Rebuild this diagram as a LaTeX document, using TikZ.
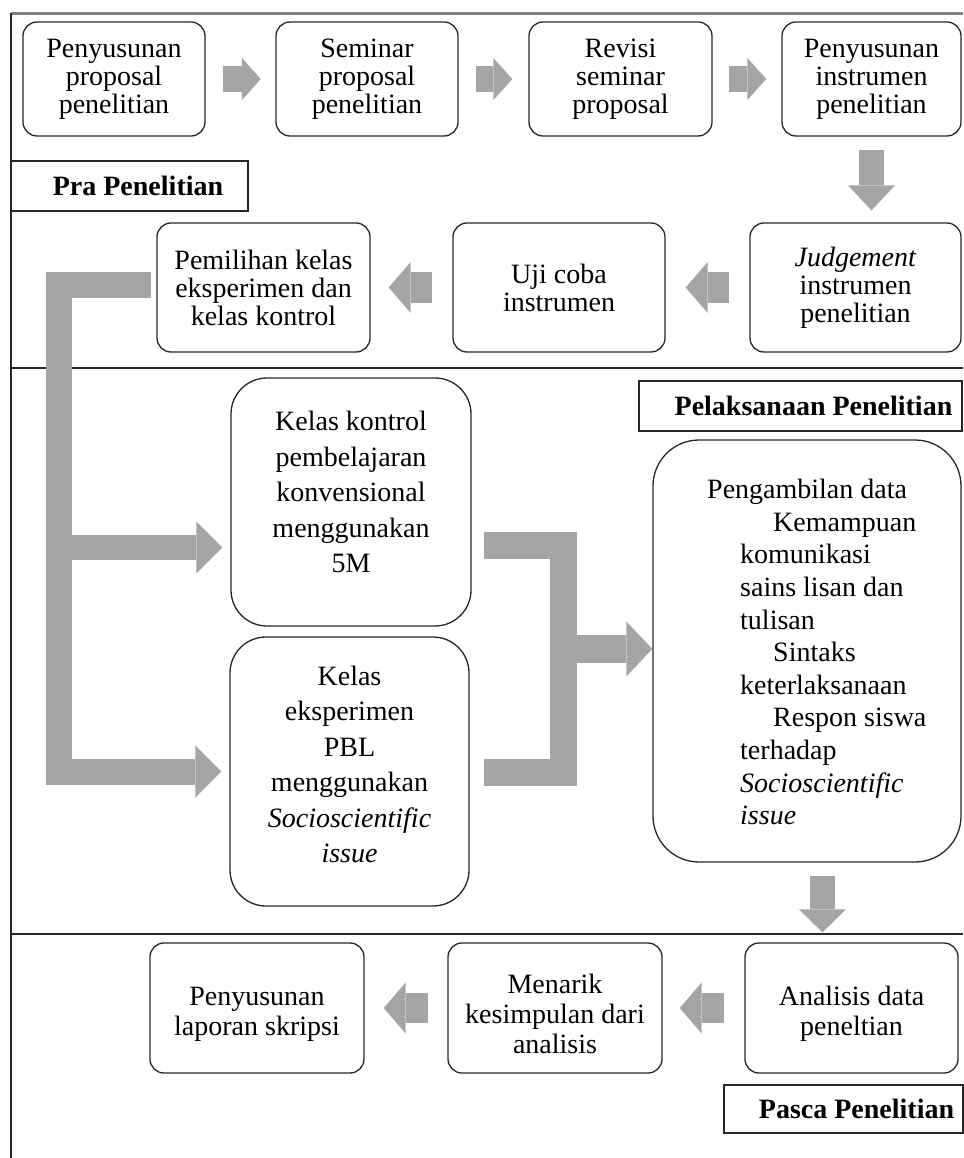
\documentclass[tikz,border=0pt]{standalone}
\usepackage{fontspec}
\setmainfont{Liberation Serif}
\usetikzlibrary{arrows.meta}
\definecolor{ag}{RGB}{166,165,165}
\definecolor{frametop}{RGB}{128,128,128}
\begin{document}
\begin{tikzpicture}[x=1pt,y=-1pt,
  box/.style={draw=black!85, line width=1.3pt, rounded corners=14pt, align=center,
    inner sep=0pt, font=\fontsize{28}{28}\selectfont},
  bigbox/.style={box, rounded corners=36pt, font=\fontsize{28}{35.5}\selectfont},
  pascabox/.style={box, font=\fontsize{28}{30}\selectfont},
  databox/.style={box, rounded corners=46pt},
  stagelabel/.style={draw=black!85, line width=1.3pt, inner sep=0pt, minimum height=50pt,
    font=\fontsize{28}{28}\selectfont\bfseries},
  rarrow/.style={ag, line width=26pt, -{Triangle[width=42pt,length=19pt,line width=0pt]}},
  darrow/.style={ag, line width=25pt, -{Triangle[width=47pt,length=25pt,line width=0pt]}},
  larrow/.style={ag, line width=31pt, -{Triangle[width=51pt,length=22pt,line width=0pt]}},
  bracket/.style={ag, line join=miter, line cap=butt},
  rule/.style={black!85, line width=2pt}
]
\useasboundingbox (0,0) rectangle (963,1158);

% frame and section dividers
\draw[frametop, line width=3pt] (11,14) -- (963,14);
\draw[rule] (11,13) -- (11,1158);
\draw[rule] (11,368) -- (963,368);
\draw[rule] (11,934) -- (963,934);

% row 1
\node[box, minimum width=182pt, minimum height=114pt] (b1) at (114,79) {Penyusunan\\proposal\\penelitian};
\node[box, minimum width=182pt, minimum height=114pt] (b2) at (367,79) {Seminar\\proposal\\penelitian};
\node[box, minimum width=183pt, minimum height=114pt] (b3) at (620.5,79) {Revisi\\seminar\\proposal};
\node[box, minimum width=179pt, minimum height=114pt] (b4) at (871.5,79) {Penyusunan\\instrumen\\penelitian};

\node[stagelabel, minimum width=237pt] (pra) at (129.5,186) {\hspace*{17pt}Pra Penelitian};

% row 2
\node[box, minimum width=211pt, minimum height=129pt] (jud) at (855.5,287.5) {\textit{Judgement}\\instrumen\\penelitian};
\node[box, minimum width=212pt, minimum height=129pt] (uji) at (559,287.5) {Uji coba\\instrumen};
\node[box, minimum width=213pt, minimum height=129pt] (pem) at (263.5,287.5) {Pemilihan kelas\\eksperimen dan\\kelas kontrol};

% pelaksanaan
\node[stagelabel, minimum width=323pt] (pel) at (800.5,406) {\hspace*{26pt}Pelaksanaan Penelitian};
\node[bigbox, minimum width=240pt, minimum height=248pt] (kon) at (351,502) {Kelas kontrol\\pembelajaran\\konvensional\\menggunakan\\5M\\[-15.5pt]\mbox{}};
\node[bigbox, minimum width=239pt, minimum height=269pt] (eks) at (349.5,771.5) {Kelas\\eksperimen\\PBL\\menggunakan\\\textit{Socioscientific}\\\textit{issue}\\[-21.5pt]\mbox{}};
\node[databox, minimum width=308pt, minimum height=422pt] (pg) at (807,651) {};
\node[anchor=north west, inner sep=0pt, align=left, font=\fontsize{28}{32.6}\selectfont] (pgtext) at (707,479)
  {Pengambilan data\\
   \hspace*{66pt}Kemampuan\\
   \hspace*{33pt}komunikasi\\
   \hspace*{33pt}sains lisan dan\\
   \hspace*{33pt}tulisan\\
   \hspace*{66pt}Sintaks\\
   \hspace*{33pt}keterlaksanaan\\
   \hspace*{66pt}Respon siswa\\
   \hspace*{33pt}terhadap\\
   \hspace*{33pt}\textit{Socioscientific}\\
   \hspace*{33pt}\textit{issue}};

% pasca
\node[pascabox, minimum width=213pt, minimum height=130pt] (ana) at (851.5,1008) {\mbox{}\\[1pt]Analisis data\\peneltian};
\node[pascabox, minimum width=214pt, minimum height=130pt] (men) at (555,1008) {\mbox{}\\[1pt]Menarik\\kesimpulan dari\\analisis};
\node[pascabox, minimum width=214pt, minimum height=130pt] (lap) at (257,1008) {\mbox{}\\[1pt]Penyusunan\\laporan skripsi};
\node[stagelabel, minimum width=239pt, minimum height=48pt] (pas) at (843.5,1109) {\hspace*{26pt}Pasca Penelitian};

% row 1 arrows
\draw[rarrow, shorten <=17pt, shorten >=14.5pt] (b1.east) -- (b2.west);
\draw[rarrow, shorten <=17pt, shorten >=16pt] (b2.east) -- (b3.west);
\draw[rarrow, shorten <=16pt, shorten >=15pt] (b3.east) -- (b4.west);
\draw[darrow, shorten <=13pt, shorten >=12pt] (b4.south) -- (b4.south |- jud.north);

% row 2 arrows
\draw[larrow, shorten <=20pt, shorten >=20pt] (jud.west) -- (uji.east);
\draw[larrow, shorten <=20pt, shorten >=18pt] (uji.west) -- (pem.east);

% left bracket
\coordinate (lbtop) at ([xshift=-5pt,yshift=3pt]pem.west);
\coordinate (lbx) at (58.5,0);
\coordinate (lbbranch) at (58.5,547.5);
\draw[bracket, line width=26pt, -{Triangle[width=52pt,length=26pt,line width=0pt]}, shorten >=8pt]
  (lbtop) -- (lbtop -| lbx) -- (lbx |- eks.west) -- (eks.west);
\draw[bracket, line width=25pt, -{Triangle[width=52pt,length=26pt,line width=0pt]}, shorten >=8pt]
  (lbbranch) -- (lbbranch -| kon.west);

% right bracket
\coordinate (rbtop) at ([xshift=12pt]kon.east |- 0,545);
\coordinate (rbbot) at ([xshift=14pt]eks.east |- 0,772.5);
\coordinate (rbx) at (563.5,0);
\draw[bracket, line width=27pt] (rbtop) -- (rbtop -| rbx) -- (rbbot -| rbx) -- (rbbot);
\draw[bracket, line width=28pt, -{Triangle[width=55pt,length=26pt,line width=0pt]}]
  ([yshift=2pt]pg.west -| rbx) -- ([yshift=2pt]pg.west);

% pelaksanaan to pasca
\draw[ag, line width=25pt, -{Triangle[width=47pt,length=23pt,line width=0pt]}, shorten <=13pt, shorten >=10pt]
  ([xshift=15.5pt]pg.south) -- ([xshift=15.5pt]pg.south |- ana.north);

% pasca arrows
\draw[ag, line width=30pt, -{Triangle[width=51pt,length=22pt,line width=0pt]}, shorten <=20pt, shorten >=17pt] (ana.west) -- (men.east);
\draw[ag, line width=30pt, -{Triangle[width=51pt,length=22pt,line width=0pt]}, shorten <=19pt, shorten >=19pt] (men.west) -- (lap.east);
\end{tikzpicture}
\end{document}
